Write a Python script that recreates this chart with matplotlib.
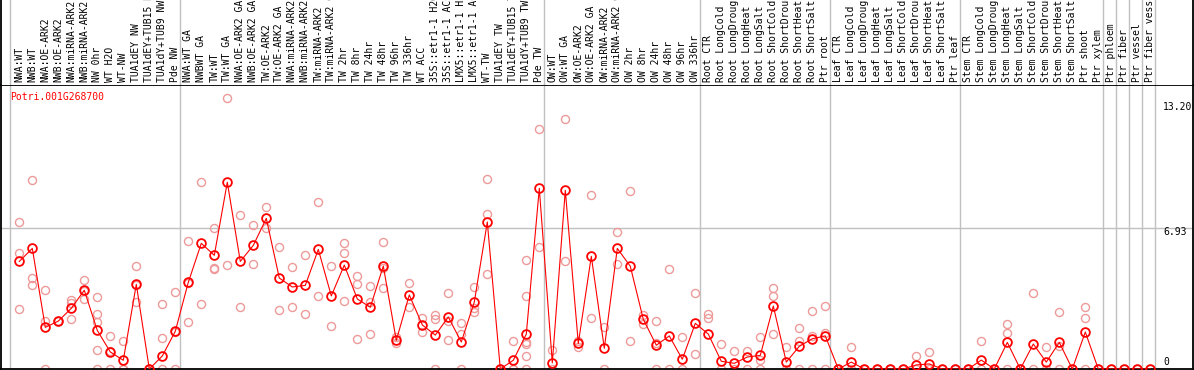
import numpy as np
import matplotlib
matplotlib.use("Agg")
import matplotlib.pyplot as plt

# ---------------------------------------------------------------------------
# data (Potri.001G268700 expression profile)
# ---------------------------------------------------------------------------
gene_name = "Potri.001G268700"

labels = [
    "NWA:WT", "NWB:WT", "NWA:OE-ARK2", "NWB:OE-ARK2", "NWA:miRNA-ARK2",
    "NWB:miRNA-ARK2", "NW 0hr", "WT H2O", "WT-NW", "TUA1dEY NW",
    "TUA1dEY+TUB15 NW", "TUA1dY+TUB9 NW", "Pde NW",
    "NWA:WT GA", "NWBWT GA", "TW:WT", "TW:WT GA", "NWA:OE-ARK2 GA",
    "NWB:OE-ARK2 GA", "TW:OE-ARK2", "TW:OE-ARK2 GA", "NWA:miRNA-ARK2 GA",
    "NWB:miRNA-ARK2 GA", "TW:miRNA-ARK2", "TW:miRNA-ARK2 GA", "TW 2hr",
    "TW 8hr", "TW 24hr", "TW 48hr", "TW 96hr", "TW 336hr", "WT ACC",
    "35S::etr1-1 H2O", "35S::etr1-1 ACC", "LMX5::etr1-1 H2O",
    "LMX5::etr1-1 ACC", "WT-TW", "TUA1dEY TW", "TUA1dEY+TUB15 TW",
    "TUA1dY+TUB9 TW", "Pde TW",
    "OW:WT", "OW:WT GA", "OW:OE-ARK2", "OW:OE-ARK2 GA", "OW:miRNA-ARK2",
    "OW:miRNA-ARK2 GA", "OW 2hr", "OW 8hr", "OW 24hr", "OW 48hr", "OW 96hr",
    "OW 336hr",
    "Root CTR", "Root LongCold", "Root LongDrought", "Root LongHeat",
    "Root LongSalt", "Root ShortCold", "Root ShortDrought", "Root ShortHeat",
    "Root ShortSalt", "Ptr root",
    "Leaf CTR", "Leaf LongCold", "Leaf LongDrought", "Leaf LongHeat",
    "Leaf LongSalt", "Leaf ShortCold", "Leaf ShortDrought", "Leaf ShortHeat",
    "Leaf ShortSalt", "Ptr leaf",
    "Stem CTR", "Stem LongCold", "Stem LongDrought", "Stem LongHeat",
    "Stem LongSalt", "Stem ShortCold", "Stem ShortDrought", "Stem ShortHeat",
    "Stem ShortSalt", "Ptr shoot", "Ptr xylem",
    "Ptr phloem", "Ptr fiber", "Ptr vessel", "Ptr fiber vessel",
]

# last index of each group (a separator line follows it)
group_ends = [12, 40, 52, 62, 72, 83, 84, 85, 86, 87]

means = [
    5.30, 5.94, 2.05, 2.36, 2.99, 3.88, 1.90, 0.84, 0.43, 4.17, 0.00, 0.64, 1.86,
    4.27, 6.19, 5.60, 9.20, 5.30, 6.09, 7.42, 4.48, 4.04, 4.12, 5.89, 3.60,
    5.12, 3.45, 3.04, 5.07, 1.41, 3.65, 2.17, 1.67, 2.56, 1.33, 3.30, 7.24,
    0.00, 0.43, 1.72, 8.90,
    0.30, 8.80, 1.26, 5.55, 1.02, 5.94, 5.06, 2.45, 1.17, 1.63, 0.48, 2.25,
    1.72, 0.38, 0.28, 0.59, 0.67, 3.10, 0.34, 1.12, 1.49, 1.63,
    0.00, 0.34, 0.00, 0.00, 0.00, 0.00, 0.20, 0.25, 0.00, 0.00,
    0.00, 0.44, 0.00, 1.31, 0.00, 1.23, 0.34, 1.31, 0.00, 1.82, 0.00,
    0.00, 0.00, 0.00, 0.00,
]

replicates = [
    [7.24, 5.71, 2.96], [9.29, 4.48, 4.12], [3.89, 2.36, 0], [2.36, 2.36, 2.36],
    [3.40, 3.23, 2.46], [4.37, 3.43, 3.85], [3.55, 2.69, 2.30, 0.92, 0],
    [1.63, 0.87, 0], [1.36, 0, 0], [5.06, 3.30, 4.15], [0, 0, 0],
    [3.19, 1.51, 0], [3.78, 1.80, 0],
    [6.29, 4.22, 2.30], [9.20, 3.19], [6.93, 4.98, 4.91], [13.33, 5.11],
    [7.59, 3.04], [7.09, 5.17], [7.98, 6.93], [5.99, 2.89], [5.02, 3.05],
    [5.60, 2.71], [8.23, 3.58], [5.06, 2.12], [6.21, 5.71, 3.33],
    [4.58, 4.20, 1.46], [4.07, 3.30, 1.72], [6.26, 4.99, 3.99], [1.56, 1.26],
    [4.24, 3.04], [2.50, 1.84], [2.64, 2.45, 0], [3.73, 2.36, 1.41],
    [2.27, 1.72, 0], [4.04, 3.02, 2.82], [9.34, 7.64, 4.66], [0, 0, 0],
    [1.36, 0, 0], [5.35, 3.58, 1.35, 1.22, 0.62, 0], [11.82, 5.99],
    [0.92, 0], [12.30, 5.30], [1.36, 1.10], [8.55, 2.50], [2.05, 0],
    [6.73, 5.16], [8.75, 1.36], [2.64, 2.20], [2.35, 1.26, 0], [4.91, 0],
    [1.56, 0], [3.73, 0.72],
    [2.73, 2.50], [1.22, 0], [0.89, 0], [0.89, 0], [1.58, 0.46, 0],
    [3.97, 3.61, 1.72], [1.08, 0], [2.00, 1.38, 0], [2.86, 1.63, 0],
    [3.10, 1.79, 0],
    [0, 0], [1.08, 0], [0, 0], [0, 0], [0, 0], [0, 0], [0.64, 0], [0.84, 0],
    [0, 0], [0, 0],
    [0, 0], [1.38, 0], [0, 0], [2.22, 1.77, 0], [0, 0], [3.74, 0], [1.08, 0],
    [2.79, 1.12, 0], [0, 0], [3.04, 2.50, 0], [0, 0],
    [0], [0], [0], [0],
]

y_tick_labels = ["13.20", "6.93", "0"]

# ---------------------------------------------------------------------------
W, H = 1194, 370
FONT = "DejaVu Sans Mono"
RED = "#ff0000"
PINK = "#ee9a9a"
GRID = "#c0c0c0"

fig = plt.figure(figsize=(W / 100, H / 100), dpi=100)
fig.patch.set_facecolor("white")

# plot area (pixels 1..1193 wide, 85..369 tall)
ax = fig.add_axes([1 / W, 1 / H, 1192 / W, 284 / H])
# label strip on top
lab = fig.add_axes([1 / W, 285 / H, 1192 / W, 85 / H])

x = np.arange(len(labels))
xlim = ((1 - 19.3) / 13, (1193 - 19.3) / 13)
for a in (ax, lab):
    a.set_xlim(*xlim)
    a.set_xticks([])
    a.set_yticks([])
    for s in a.spines.values():
        s.set_color("black")
        s.set_linewidth(1.3)
lab.set_ylim(0, 1)
lab.spines["top"].set_visible(False)
lab.spines["bottom"].set_visible(False)
ax.set_ylim(0, 13.99)

# separators
seps = [-0.72] + [g + 0.38 for g in group_ends]
for sx in seps:
    ax.axvline(sx, color=GRID, lw=1.0, zorder=1)
    lab.axvline(sx, color=GRID, lw=1.0, zorder=1)
ax.axhline(6.93, color=GRID, lw=1.0, zorder=1)

# replicate points
rx, ry = [], []
for i, reps in enumerate(replicates):
    for v in reps:
        rx.append(i)
        ry.append(v)
ax.plot(rx, ry, linestyle="none", marker="o", ms=5.8, mfc="none",
        mec=PINK, mew=1.0, zorder=2)

# mean line + markers
ax.plot(x, means, color=RED, lw=0.8, zorder=3)
ax.plot(x, means, linestyle="none", marker="o", ms=6.3, mfc="none",
        mec=RED, mew=1.3, zorder=4)

# condition labels (long ones run off the top, as in the original)
for i, t in enumerate(labels):
    lab.text(i, 3 / 85, t, rotation=90, ha="center", va="bottom",
             fontsize=7, family=FONT, color="black", clip_on=True)

# gene name
ax.text(-0.72, 13.4, gene_name, color=RED, fontsize=7, family=FONT,
        ha="left", va="center")

# value labels on the right
tick_pos = [12.9, 6.76, 0.36]
for v, t in zip(tick_pos, y_tick_labels):
    ax.text(87.98, v, t, fontsize=7, family=FONT, ha="left", va="center",
            color="black")

fig.savefig("out.png", dpi=100, facecolor="white")
